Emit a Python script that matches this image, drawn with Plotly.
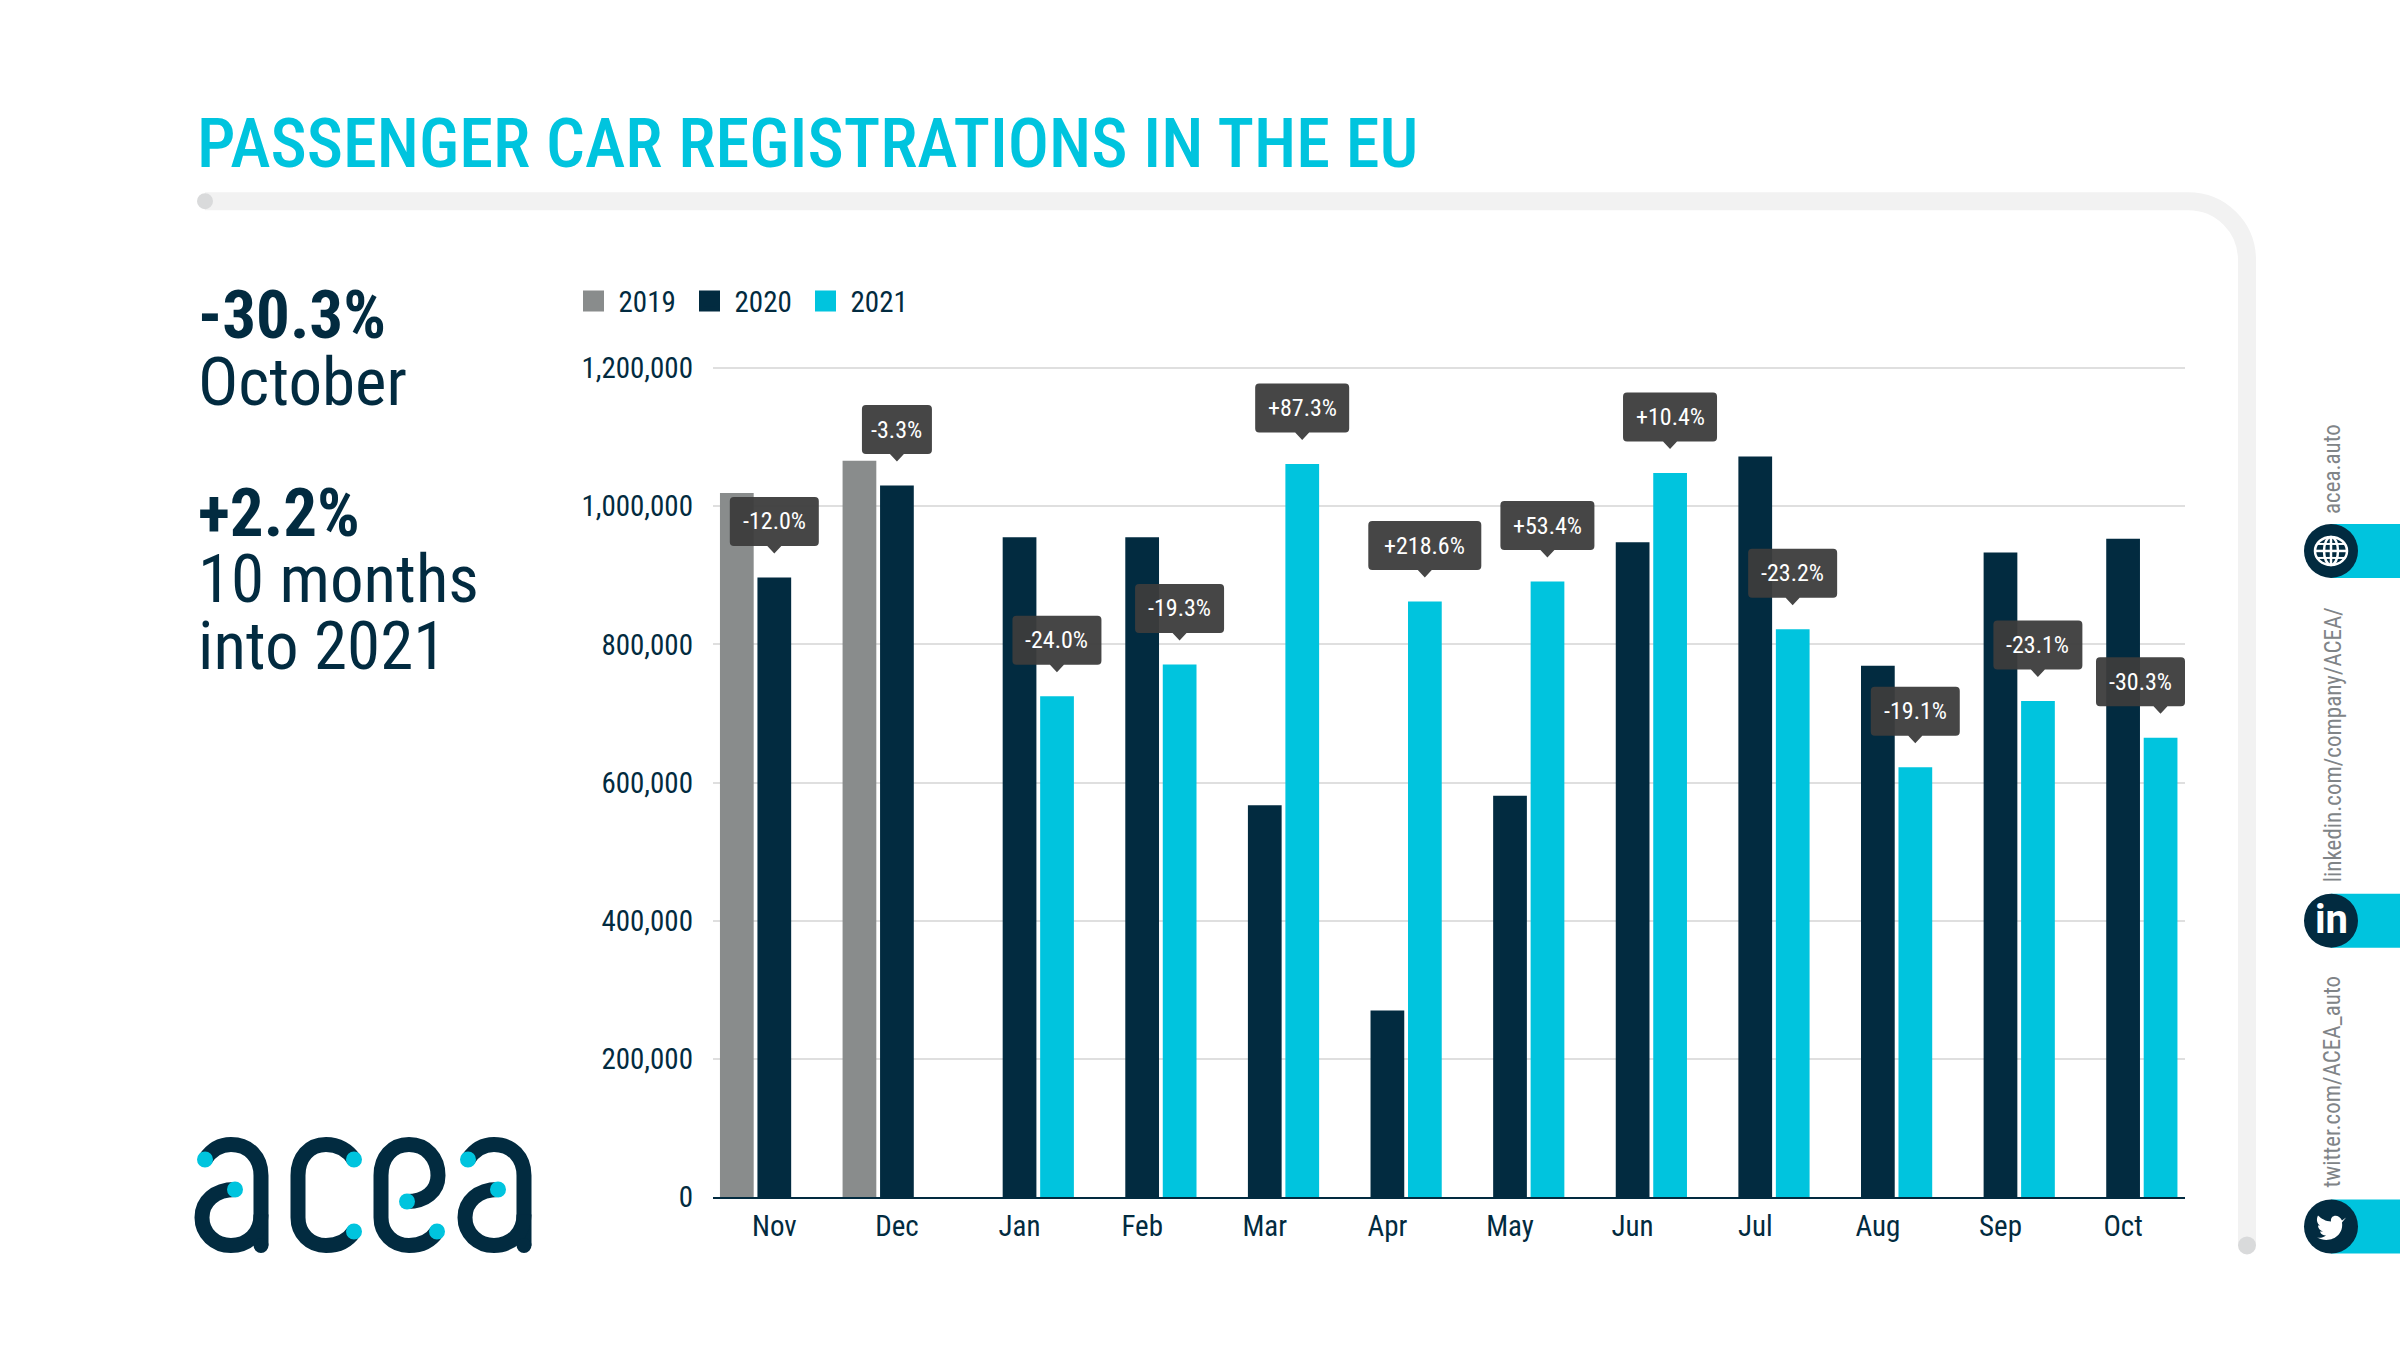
import plotly.graph_objects as go

# ---------- data ----------
months = ["Nov", "Dec", "Jan", "Feb", "Mar", "Apr", "May", "Jun", "Jul", "Aug", "Sep", "Oct"]
regs_2019 = [1019000, 1066000, None, None, None, None, None, None, None, None, None, None]
regs_2020 = [897000, 1030000, 955000, 955000, 567000, 270000, 581000, 948000, 1072000, 769000, 933000, 953000]
regs_2021 = [None, None, 725000, 771000, 1061000, 862000, 891000, 1048000, 822000, 622000, 718000, 665000]
changes = ["-12.0%", "-3.3%", "-24.0%", "-19.3%", "+87.3%", "+218.6%", "+53.4%", "+10.4%", "-23.2%", "-19.1%", "-23.1%", "-30.3%"]
y_ticks = [0, 200000, 400000, 600000, 800000, 1000000, 1200000]
y_top = 1203000   # a hair above the last tick so that its gridline is drawn
legend_names = ["2019", "2020", "2021"]

NAVY = "#022b40"
CYAN = "#00c4de"
GREY = "#898c8c"
FRAME = "#f2f2f2"
DOT = "#d9dadb"
TIP = "#3c3c3c"
NARROW = "Roboto Condensed"

# plot-area box in page pixels
L, R, B = 713, 2185, 1197.5
T = B - 829.5 * y_top / 1200000


def px(x):
    return (x - L) / (R - L)


def py(y):
    return (B - y) / (B - T)


def path(cmds):
    """cmds: list of (letter, x, y, x, y...) in page pixels -> paper path."""
    out = []
    for c in cmds:
        letter, nums = c[0], c[1:]
        pts = []
        for i in range(0, len(nums), 2):
            pts.append(f"{px(nums[i]):.5f},{py(nums[i + 1]):.5f}")
        out.append(letter + " ".join(pts))
    return " ".join(out) + ""


shapes = []
annotations = []


def stroke(cmds, color, width):
    shapes.append(dict(type="path", xref="paper", yref="paper", path=path(cmds),
                       line=dict(color=color, width=width), fillcolor="rgba(0,0,0,0)", layer="above"))


def circle(cx, cy, r, fill, line=None, lw=0, ry=None):
    ry = r if ry is None else ry
    shapes.append(dict(type="circle", xref="paper", yref="paper", x0=px(cx - r), x1=px(cx + r),
                       y0=py(cy + ry), y1=py(cy - ry), fillcolor=fill,
                       line=dict(color=line or fill, width=lw), layer="above"))


def label(text, x, y, size, color=NAVY, xanchor="left", yanchor="middle", angle=0, font=NARROW, weight=None):
    f = dict(family=font, size=size, color=color)
    if weight:
        f["weight"] = weight
    annotations.append(dict(text=text, x=px(x), y=py(y), xref="paper", yref="paper", showarrow=False,
                            xanchor=xanchor, yanchor=yanchor, textangle=angle, font=f))


fig = go.Figure()
for name, vals, col in zip(legend_names, [regs_2019, regs_2020, regs_2021], [GREY, NAVY, CYAN]):
    fig.add_bar(x=months, y=vals, marker=dict(color=col, line=dict(width=0)), name=name,
                showlegend=False, hoverinfo="x+y")
    fig.add_scatter(x=[None], y=[None], mode="markers", name=name,
                    marker=dict(symbol="square", size=16, color=col, line=dict(color=col, width=7)))

# ---------- frame ----------
stroke([("M", 205, 201), ("L", 2188, 201), ("C", 2221, 201, 2247, 227, 2247, 260), ("L", 2247, 1246)], FRAME, 18)
circle(205, 201, 8, DOT)
circle(2247, 1246, 9, DOT)

# ---------- text ----------
label("PASSENGER CAR REGISTRATIONS IN THE EU", 195, 143, 68.5, CYAN, weight=500)
label("<b>-30.3%</b>", 196, 315, 67)
label("October", 196, 382, 67)
label("<b>+2.2%</b>", 196, 513, 67)
label("10 months", 196, 579, 67)
label("into 2021", 196, 646, 67)

# ---------- tooltips anchored on the bars ----------
BAR_STEP = 37.4
for i, (m, txt) in enumerate(zip(months, changes)):
    on_2021 = regs_2021[i] is not None
    val = regs_2021[i] if on_2021 else regs_2020[i]
    dx = BAR_STEP if on_2021 else 0
    w = 19 * len(txt) - 25 + (5 if txt[0] == "+" else 0)
    shift = -20 if i == len(months) - 1 else 0      # last box stays inside the plot
    x0, x1 = dx - w / 2 + shift, dx + w / 2 + shift
    y0, y1 = 31.5, 80.5
    r = 4
    p = (f"M{dx - 7},{y0} L{dx},{y0 - 7.5} L{dx + 7},{y0} L{x1 - r},{y0} Q{x1},{y0} {x1},{y0 + r} "
         f"L{x1},{y1 - r} Q{x1},{y1} {x1 - r},{y1} L{x0 + r},{y1} Q{x0},{y1} {x0},{y1 - r} "
         f"L{x0},{y0 + r} Q{x0},{y0} {x0 + r},{y0} Z")
    shapes.append(dict(type="path", path=p, xref="x", yref="y", xsizemode="pixel", ysizemode="pixel",
                       xanchor=m, yanchor=val, fillcolor=TIP, opacity=0.95, line=dict(width=0), layer="above"))
    annotations.append(dict(text=txt, x=m, y=val, xref="x", yref="y", showarrow=False, xanchor="center",
                            yanchor="middle", xshift=dx + shift, yshift=56,
                            font=dict(family=NARROW, size=24, color="white")))

# ---------- social strip ----------
for cy in (551, 921, 1227):
    shapes.append(dict(type="rect", xref="paper", yref="paper", x0=px(2331), x1=px(2400), y0=py(cy + 27), y1=py(cy - 27),
                       fillcolor=CYAN, line=dict(width=0), layer="above"))
    circle(2331, cy, 27, NAVY)
label("acea.auto", 2333, 516, 23, "#808487", "center", "bottom", -90)
label("linkedin.com/company/ACEA/", 2333, 885, 23, "#808487", "center", "bottom", -90)
label("twitter.com/ACEA_auto", 2333, 1190, 23, "#808487", "center", "bottom", -90)
# globe
circle(2331, 551, 16, "rgba(0,0,0,0)", "white", 2.5, 14)
circle(2331, 551, 7, "rgba(0,0,0,0)", "white", 2.5, 14)
stroke([("M", 2315, 551), ("L", 2347, 551)], "white", 2.5)
stroke([("M", 2331, 537), ("L", 2331, 565)], "white", 2.5)
stroke([("M", 2318, 544), ("L", 2344, 544)], "white", 2)
stroke([("M", 2318, 558), ("L", 2344, 558)], "white", 2)
label("<b>in</b>", 2331, 920, 40, "white", "center", font="Roboto")
# bird
shapes.append(dict(type="path", xref="paper", yref="paper", layer="above", fillcolor="white", line=dict(width=0),
                   path=path([("M", 2346, 1218), ("L", 2342, 1221), ("C", 2339, 1214, 2330, 1215, 2331, 1222),
                              ("C", 2326, 1222, 2321, 1219, 2318, 1216), ("C", 2316, 1220, 2317, 1224, 2320, 1226),
                              ("L", 2318, 1226), ("C", 2318, 1229, 2320, 1231, 2323, 1232), ("L", 2320, 1232),
                              ("C", 2321, 1235, 2323, 1236, 2326, 1236), ("C", 2323, 1238, 2320, 1239, 2317, 1238),
                              ("C", 2330, 1245, 2344, 1236, 2342, 1223)]) + " Z"))

# ---------- logo ----------
W = 15
for ox in (0, 263):
    stroke([("M", 261 + ox, 1246), ("L", 261 + ox, 1176), ("C", 261 + ox, 1158, 249 + ox, 1145, 231 + ox, 1145),
            ("C", 220 + ox, 1145, 211 + ox, 1151, 205 + ox, 1160)], NAVY, W)
    stroke([("M", 235 + ox, 1190), ("C", 215 + ox, 1190, 202 + ox, 1202, 202 + ox, 1218),
            ("C", 202 + ox, 1234, 215 + ox, 1246, 231 + ox, 1246), ("C", 248 + ox, 1246, 261 + ox, 1234, 261 + ox, 1215)], NAVY, W)
    circle(261 + ox, 1246, 7.5, NAVY)
    circle(205 + ox, 1160, 8, CYAN)
    circle(235 + ox, 1190, 8, CYAN)
stroke([("M", 354, 1160), ("C", 348, 1151, 338, 1145, 326, 1145), ("C", 309, 1145, 298, 1158, 298, 1176),
        ("L", 298, 1218), ("C", 298, 1234, 310, 1246, 326, 1246), ("C", 338, 1246, 348, 1241, 354, 1232)], NAVY, W)
circle(354, 1160, 8, CYAN)
circle(354, 1232, 8, CYAN)
stroke([("M", 407, 1202), ("C", 425, 1202, 438, 1192, 438, 1176), ("C", 438, 1158, 426, 1145, 409, 1145),
        ("C", 392, 1145, 381, 1158, 381, 1176), ("L", 381, 1218), ("C", 381, 1234, 393, 1246, 409, 1246),
        ("C", 421, 1246, 431, 1241, 437, 1232)], NAVY, W)
circle(407, 1202, 8, CYAN)
circle(437, 1232, 8, CYAN)

fig.update_layout(
    width=2400, height=1350, autosize=False,
    margin=dict(l=L, r=2400 - R, t=T, b=1350 - B, pad=0),
    paper_bgcolor="white", plot_bgcolor="white",
    barmode="group", bargap=0.083, bargroupgap=0.1,
    shapes=shapes, annotations=annotations,
    legend=dict(orientation="h", x=px(568.5), y=py(301), xanchor="left", yanchor="middle",
                font=dict(family=NARROW, size=29, color=NAVY), itemwidth=40, entrywidth=61,
                bgcolor="rgba(0,0,0,0)", tracegroupgap=0, itemclick=False),
    xaxis=dict(type="category", categoryorder="array", categoryarray=months, showgrid=False,
               showline=True, linecolor=NAVY, linewidth=2, ticks="", zeroline=False, ticklabelstandoff=2,
               tickfont=dict(family=NARROW, size=29, color=NAVY), fixedrange=True),
    yaxis=dict(range=[0, y_top], tickvals=y_ticks, tickformat=",d", showgrid=True, gridcolor="#dfdfdf", gridwidth=2,
               zeroline=False, showline=False, ticks="", ticklabelstandoff=19,
               tickfont=dict(family=NARROW, size=29, color=NAVY), fixedrange=True),
)

fig.write_html("out.html", config={"displayModeBar": False},
               post_script="document.body.style.margin='0';document.documentElement.style.overflow='hidden';")
